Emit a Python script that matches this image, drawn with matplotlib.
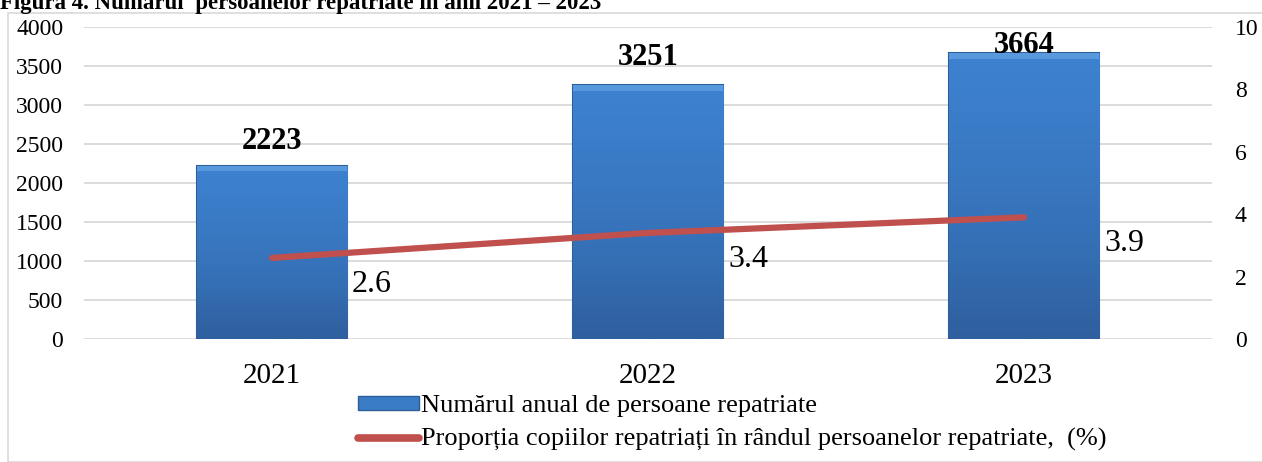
import matplotlib.pyplot as plt
import matplotlib.patches as mpatches
from matplotlib.lines import Line2D
from matplotlib.colors import LinearSegmentedColormap
import numpy as np

plt.rcParams['font.family'] = ['Liberation Serif', 'DejaVu Serif']

years = ['2021', '2022', '2023']
repatriated = [2223, 3251, 3664]
child_share = [2.6, 3.4, 3.9]

bar_label_dy = [24, 28, 8]  # px above bar top

fig = plt.figure(figsize=(12.62, 4.62), dpi=100)
fig.patches.append(mpatches.Rectangle((8/1262, 0), 1, 1 - 13/462, transform=fig.transFigure,
                                      fill=False, edgecolor='#D9D9D9', lw=1.2))
fig.text(0, 1 - 9/462, 'Figura 4. Numărul  persoanelor repatriate în anii 2021 – 2023',
         fontsize=16.5, fontweight='bold', va='baseline', ha='left')

ax = fig.add_axes([84/1262, 1 - 339/462, 1128/1262, 312/462])
x = np.arange(len(years))
bars = ax.bar(x, repatriated, width=0.40, color='#3B7CC7', edgecolor='#2C5E98', lw=1.5, zorder=2)

# vertical gradient inside each bar
grad = LinearSegmentedColormap.from_list('g', ['#2F5F9E', '#3570B6', '#3A7AC5', '#3D82D0'])
for b in bars:
    x0, w, h = b.get_x(), b.get_width(), b.get_height()
    img = ax.imshow(np.linspace(0, 1, 100).reshape(-1, 1), cmap=grad, origin='lower',
                    extent=[x0, x0 + w, 0, h], aspect='auto', zorder=2.1)
    img.set_clip_path(b)
    ax.add_patch(mpatches.Rectangle((x0, h - 70), w, 70, facecolor='#7BB8F2', alpha=0.45,
                                    edgecolor='none', zorder=2.2))

ax.set_xlim(-0.5, 2.5)
ax.set_ylim(0, 4000)
ax.set_yticks(np.arange(0, 4001, 500))
ax.yaxis.grid(True, color='#D9D9D9', lw=1.3, zorder=0)
ax.set_axisbelow(True)
for s in ax.spines.values():
    s.set_visible(False)
ax.set_xticks(x)
ax.set_xticklabels(years, fontsize=21)
ax.tick_params(axis='x', length=0, pad=17)
ax.tick_params(axis='y', length=0, pad=15, labelsize=17)

for xi, v, dy in zip(x, repatriated, bar_label_dy):
    ax.annotate(str(v), (xi, v), xytext=(0, dy * 0.72), textcoords='offset points',
                ha='center', va='center', fontsize=22, fontweight='bold')

ax2 = ax.twinx()
ax2.plot(x, child_share, color='#C0504D', lw=4.5, solid_capstyle='round', zorder=3)
ax2.set_ylim(0, 10)
ax2.set_yticks(np.arange(0, 11, 2))
for s in ax2.spines.values():
    s.set_visible(False)
ax2.tick_params(axis='y', length=0, pad=16.5, labelsize=17)
for xi, v in zip(x, child_share):
    ax2.annotate(f'{v}', (xi, v), xytext=(72, -19), textcoords='offset points',
                 ha='center', va='center', fontsize=23)

handles = [mpatches.Patch(facecolor='#3B7CC7', edgecolor='#2C5E98'),
           Line2D([0], [0], color='#C0504D', lw=5.5, solid_capstyle='round')]
labels = ['Numărul anual de persoane repatriate',
          'Proporția copiilor repatriați în rândul persoanelor repatriate,  (%)']
fig.legend(handles, labels, loc='upper left', bbox_to_anchor=(358/1262, 1 - 395/462),
           frameon=False, fontsize=19, handlelength=2.3, handleheight=0.45,
           handletextpad=0.08, labelspacing=0.42, borderaxespad=0, borderpad=0)

fig.savefig('out.png', dpi=100)
